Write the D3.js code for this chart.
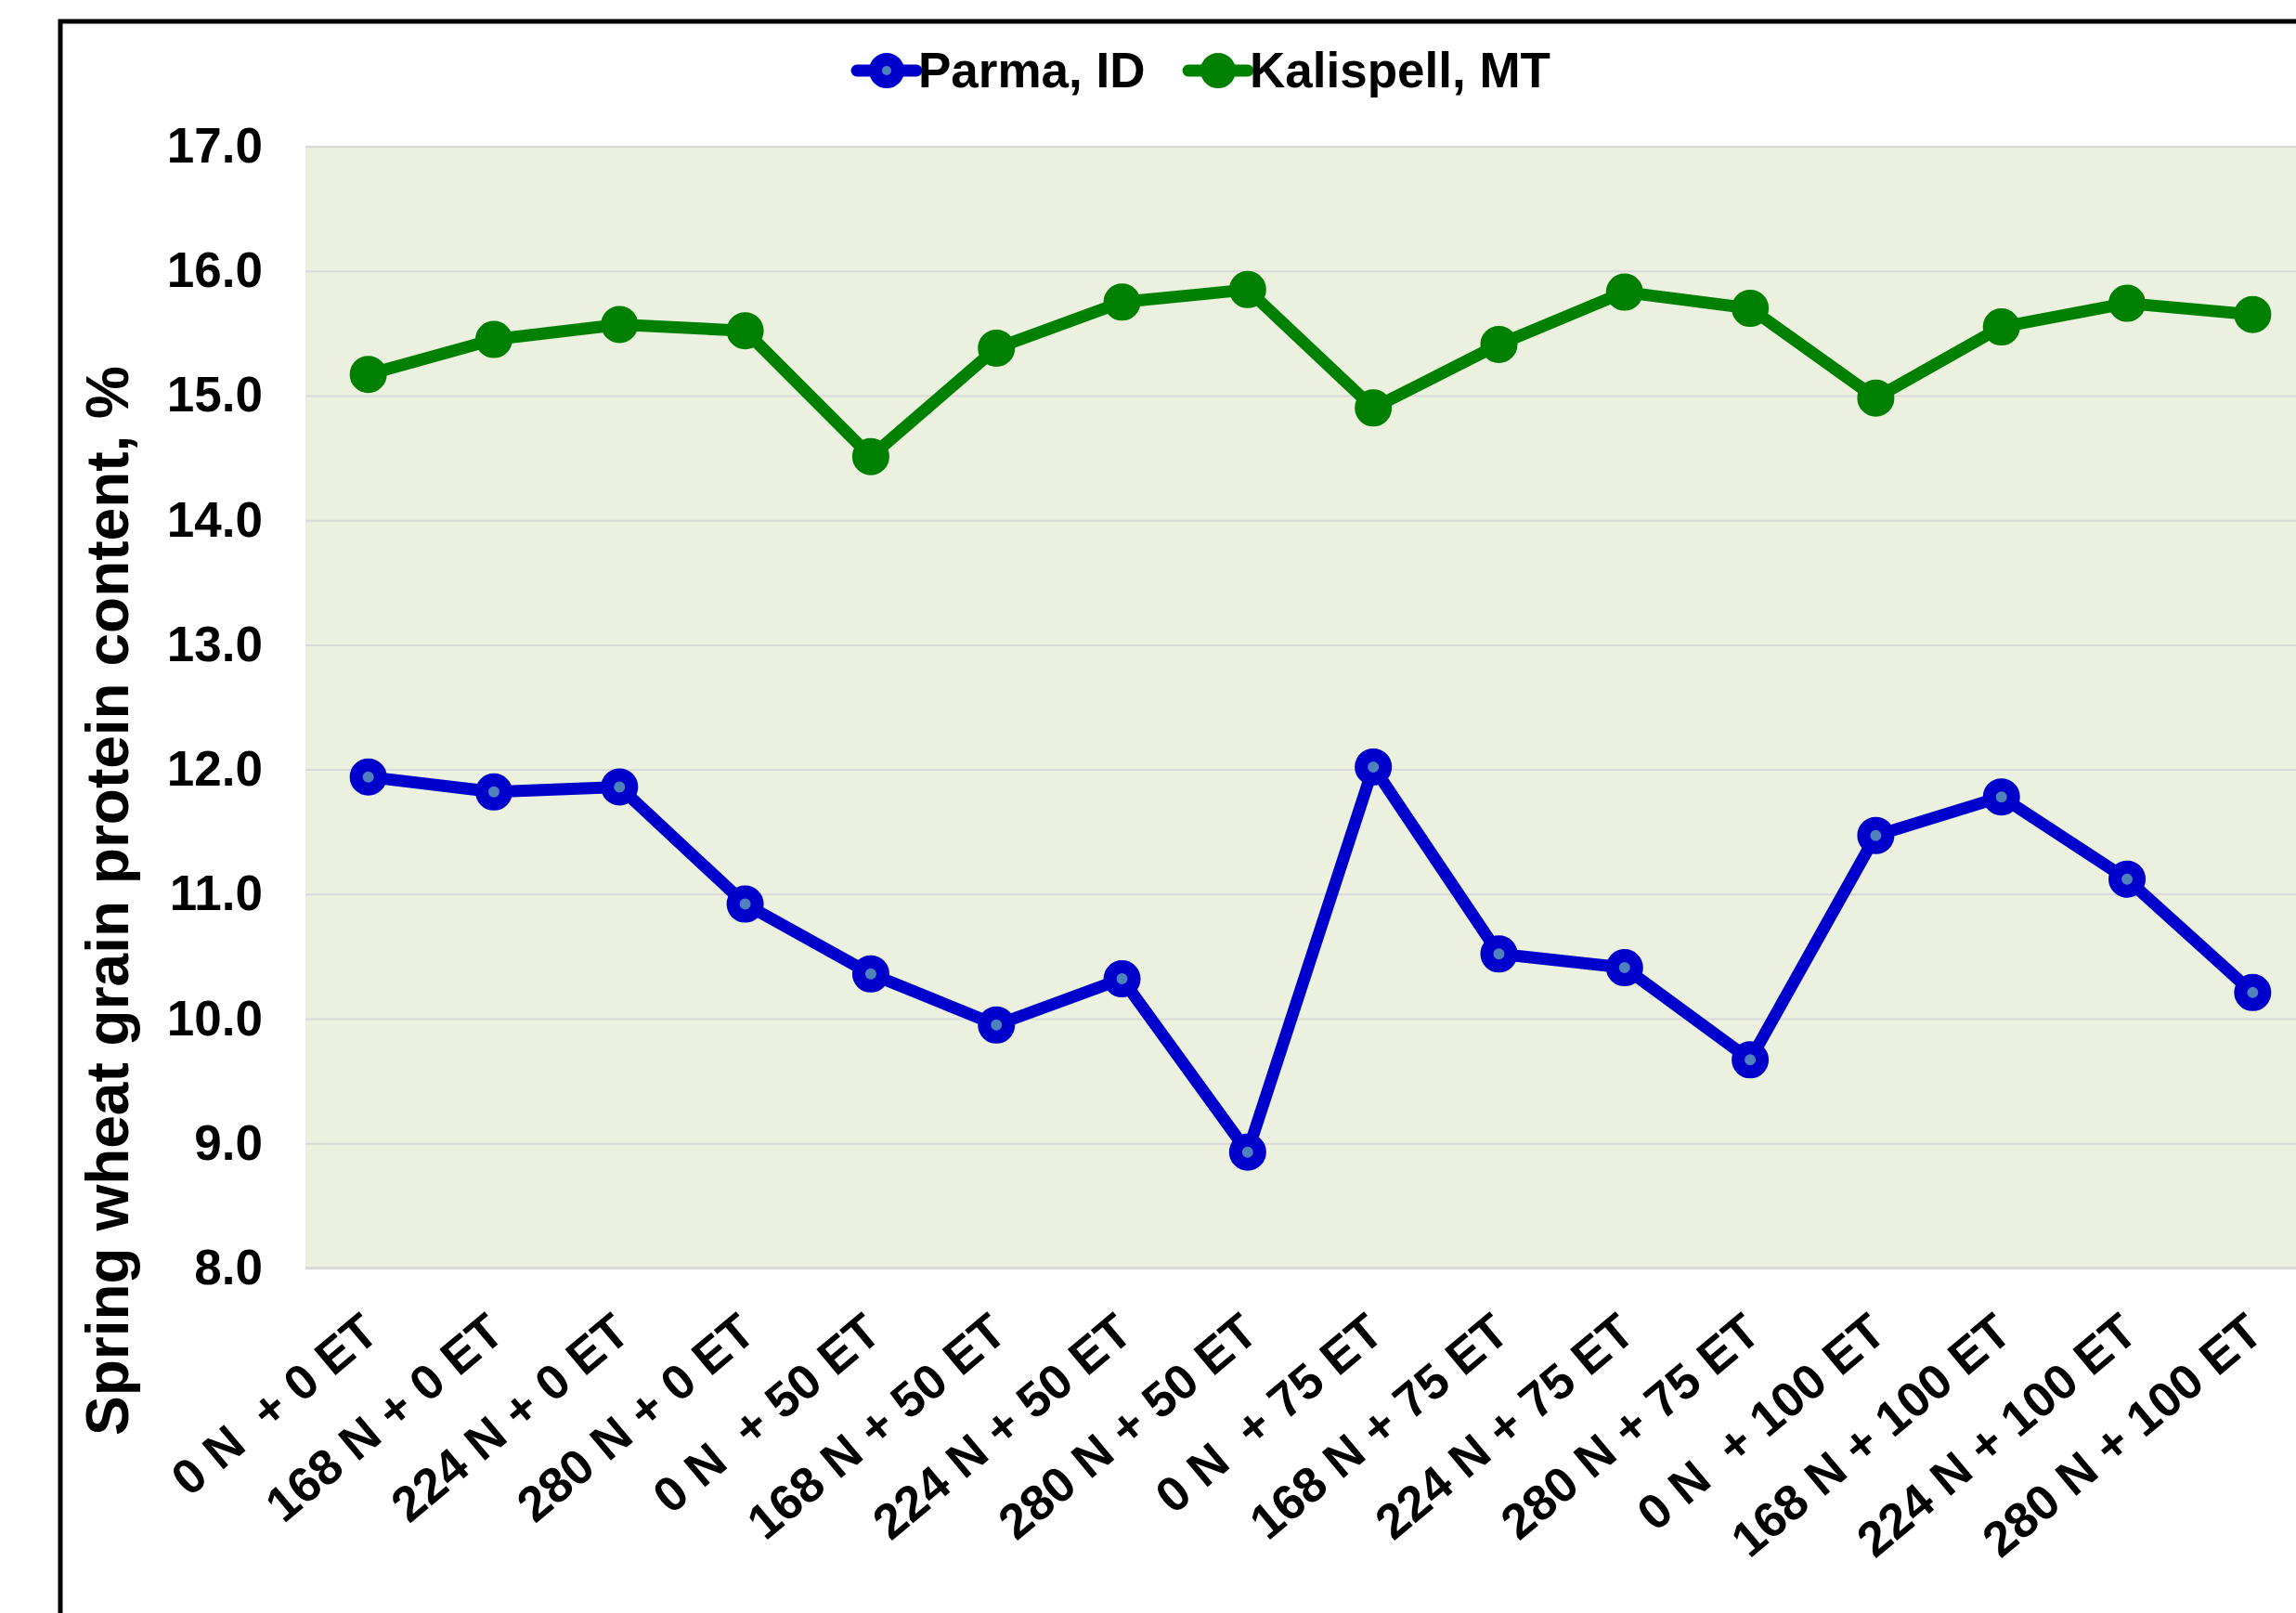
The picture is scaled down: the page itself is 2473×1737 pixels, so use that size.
<!DOCTYPE html>
<html>
<head>
<meta charset="utf-8">
<script src="https://cdn.jsdelivr.net/npm/d3@7"></script>
<style>
  body { margin: 0; background: #fff; }
  svg { display: block; font-family: "Liberation Sans", Arial, sans-serif; font-weight: bold; }
</style>
</head>
<body>
<svg width="2473" height="1737"></svg>
<script>
// treatments (N rate + ET level)
const categories = [
  "0 N  + 0 ET", "168 N + 0 ET", "224 N + 0 ET", "280 N + 0 ET",
  "0 N  + 50 ET", "168 N + 50 ET", "224 N + 50 ET", "280 N + 50 ET",
  "0 N  + 75 ET", "168 N + 75 ET", "224 N + 75 ET", "280 N + 75 ET",
  "0 N  + 100 ET", "168 N + 100 ET", "224 N + 100 ET", "280 N + 100 ET"
];
const parma = [11.94, 11.82, 11.86, 10.92, 10.36, 9.95, 10.32, 8.93,
               12.02, 10.52, 10.41, 9.67, 11.47, 11.78, 11.12, 10.21];
const kalispell = [15.17, 15.45, 15.57, 15.52, 14.51, 15.38, 15.75, 15.85,
                   14.90, 15.41, 15.83, 15.70, 14.98, 15.55, 15.74, 15.65];
const yTicks = [8, 9, 10, 11, 12, 13, 14, 15, 16, 17];

const series = [
  { name: "Parma, ID", values: parma, color: "#0000cc", inner: "#4f81bd" },
  { name: "Kalispell, MT", values: kalispell, color: "#008000", inner: "#008000" }
];

const svg = d3.select("svg");
const plot = { left: 329, top: 157.5, right: 2494, bottom: 1365.5 };

// chart border
svg.append("rect")
  .attr("x", 65).attr("y", 23)
  .attr("width", 2600).attr("height", 1900)
  .attr("fill", "none").attr("stroke", "#000").attr("stroke-width", 5);

const x = d3.scaleBand().domain(categories).range([plot.left, plot.right]);
const y = d3.scaleLinear().domain([8, 17]).range([plot.bottom, plot.top]);

// plot background
svg.append("rect")
  .attr("x", plot.left).attr("y", plot.top)
  .attr("width", plot.right - plot.left).attr("height", plot.bottom - plot.top)
  .attr("fill", "#ebf0df");

// gridlines
svg.append("g")
  .attr("transform", `translate(${plot.left},0)`)
  .call(d3.axisLeft(y).tickValues(yTicks).tickSize(-(plot.right - plot.left)).tickFormat(""))
  .call(g => g.select(".domain").remove())
  .call(g => g.selectAll("line").attr("stroke", "#d9d9d9").attr("stroke-width", 2));

svg.append("line")
  .attr("x1", plot.left).attr("x2", plot.right)
  .attr("y1", plot.bottom).attr("y2", plot.bottom)
  .attr("stroke", "#d9d9d9").attr("stroke-width", 3);

// y axis labels
svg.append("g")
  .attr("transform", `translate(${plot.left},0)`)
  .call(d3.axisLeft(y).tickValues(yTicks).tickSize(0).tickPadding(46).tickFormat(d3.format(".1f")))
  .call(g => g.select(".domain").remove())
  .call(g => g.selectAll("text")
    .attr("fill", "#000")
    .style("font-family", "Liberation Sans, Arial, sans-serif")
    .style("font-weight", "bold")
    .style("font-size", "53px"));

// x axis labels
svg.append("g")
  .attr("transform", `translate(0,${plot.bottom})`)
  .call(d3.axisBottom(x).tickSize(0))
  .call(g => g.select(".domain").remove())
  .call(g => g.selectAll("text")
    .attr("x", 0).attr("y", 0).attr("dy", "0.35em")
    .attr("transform", "translate(2,60) rotate(-40)")
    .attr("text-anchor", "end")
    .attr("fill", "#000")
    .style("white-space", "pre")
    .style("font-family", "Liberation Sans, Arial, sans-serif")
    .style("font-weight", "bold")
    .style("font-size", "53px"));

// y axis title
svg.append("text")
  .attr("transform", `translate(138,970) rotate(-90)`)
  .attr("text-anchor", "middle")
  .style("font-size", "64px")
  .text("Spring wheat grain protein content, %");

// lines + markers
const line = d3.line()
  .x((d, i) => x(categories[i]) + x.bandwidth() / 2)
  .y(d => y(d));

series.forEach(s => {
  svg.append("path")
    .datum(s.values)
    .attr("fill", "none")
    .attr("stroke", s.color)
    .attr("stroke-width", 13)
    .attr("stroke-linejoin", "round")
    .attr("d", line);

  svg.append("g")
    .selectAll("circle")
    .data(s.values)
    .join("circle")
    .attr("cx", (d, i) => x(categories[i]) + x.bandwidth() / 2)
    .attr("cy", d => y(d))
    .attr("r", 13)
    .attr("fill", s.inner)
    .attr("stroke", s.color)
    .attr("stroke-width", 14);
});

// legend
const legendX = [923, 1280];
series.forEach((s, i) => {
  const lg = svg.append("g").attr("transform", `translate(${legendX[i]},76)`);
  lg.append("line")
    .attr("x1", 0).attr("x2", 64)
    .attr("stroke", s.color).attr("stroke-width", 13).attr("stroke-linecap", "round");
  lg.append("circle")
    .attr("cx", 32).attr("r", 12)
    .attr("fill", s.inner).attr("stroke", s.color).attr("stroke-width", 14);
  lg.append("text")
    .attr("x", 66).attr("y", 18)
    .style("font-size", "53px")
    .text(s.name);
});
</script>
</body>
</html>
